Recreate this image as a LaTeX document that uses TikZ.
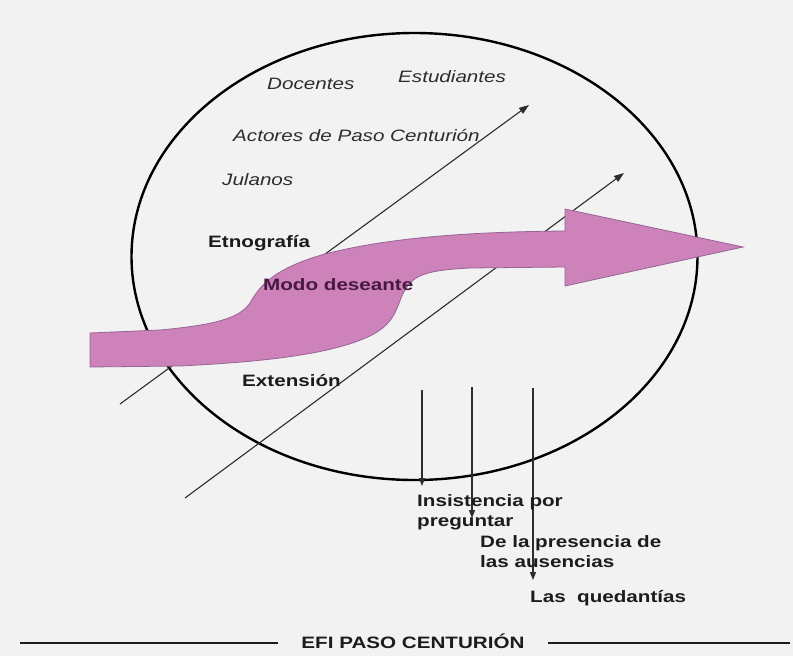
\documentclass[tikz,border=0pt]{standalone}
\usepackage{fontspec}
\setmainfont{Liberation Sans}[FakeStretch=1.25]
\usetikzlibrary{arrows.meta,shapes.geometric}
\definecolor{bg}{RGB}{242,242,242}
\definecolor{pinkfill}{RGB}{205,130,186}
\definecolor{pinkedge}{RGB}{150,100,150}
\definecolor{ink}{RGB}{45,45,45}
\definecolor{bink}{RGB}{28,28,28}
\definecolor{modo}{RGB}{70,25,65}
\begin{document}
\begin{tikzpicture}[x=1pt,y=-1pt,
  itl/.style={font=\fontsize{16.5}{20}\selectfont\itshape, text=ink, inner sep=0pt, anchor=base west},
  bld/.style={font=\fontsize{16.5}{20}\selectfont\bfseries, text=bink, inner sep=0pt, anchor=base west, align=left},
  diag/.style={draw=ink, line width=1.1pt, -{Triangle[length=10pt,width=7pt]}},
  vert/.style={draw=ink, line width=1.1pt, -{Triangle[length=8pt,width=6pt]}},
  rule/.style={draw=bink, line width=2pt}
]
\useasboundingbox (0,0) rectangle (793,656);
\fill[bg] (0,0) rectangle (793,656);

% big circle (stretched)
\node[draw=black, line width=2.4pt, ellipse, minimum width=566pt, minimum height=447pt, inner sep=0pt] (circ) at (414.5,256.5) {};

% diagonal arrows
\coordinate (d1s) at (120,404);
\coordinate (d1e) at (529,105);
\coordinate (d2s) at (185,498);
\coordinate (d2e) at (624,173);
\draw[diag] (d1s) -- (d1e);
\draw[diag] (d2s) -- (d2e);

% pink arrow
\filldraw[fill=pinkfill, draw=pinkedge, line width=0.8pt]
  (90,333) -- (160,330) .. controls (215,325) and (240,318) .. (250,303)
  .. controls (260,285) and (275,268) .. (325,254)
  .. controls (380,240) and (450,232) .. (565,231)
  -- (565,209) -- (743,247) -- (565,286) -- (565,267)
  -- (470,268) .. controls (430,270) and (414,274) .. (405,290)
  .. controls (396,305) and (398,322) .. (370,336)
  .. controls (330,355) and (260,362) .. (180,366)
  -- (90,367) -- cycle;

% labels inside circle
\node[itl] (doc) at (267,89) {Docentes};
\node[itl] (est) at (398,82) {Estudiantes};
\node[itl] (act) at (233,141) {Actores de Paso Centurión};
\node[itl] (jul) at (222,185) {Julanos};
\node[bld] (etn) at (208,247) {Etnografía};
\node[bld, text=modo] (modo) at (263,290) {Modo deseante};
\node[bld] (ext) at (242,386) {Extensión};

% vertical arrows
\coordinate (v1s) at (422,390);
\coordinate (v1e) at (422,486);
\coordinate (v2s) at (472,387);
\coordinate (v2e) at (472,518);
\coordinate (v3s) at (533,388);
\coordinate (v3e) at (533,580);
\draw[vert] (v1s) -- (v1e);
\draw[vert] (v2s) -- (v2e);
\draw[vert] (v3s) -- (v3e);

% lower labels (base anchor = last line)
\node[bld] (ins) at (417,526) {Insistencia por\\preguntar};
\node[bld] (pres) at (480,567) {De la presencia de\\las ausencias};
\node[bld] (qued) at (530,602) {Las\ \ quedantías};

% footer
\node[font=\fontsize{16.5}{20}\selectfont\bfseries, text=bink, inner sep=0pt, anchor=base] (efi) at (413,648) {EFI PASO CENTURIÓN};
\coordinate (r1a) at (20,643);
\coordinate (r2b) at (790,643);
\draw[rule] (r1a) -- (278,643);
\draw[rule] (548,643) -- (r2b);
\end{tikzpicture}
\end{document}
